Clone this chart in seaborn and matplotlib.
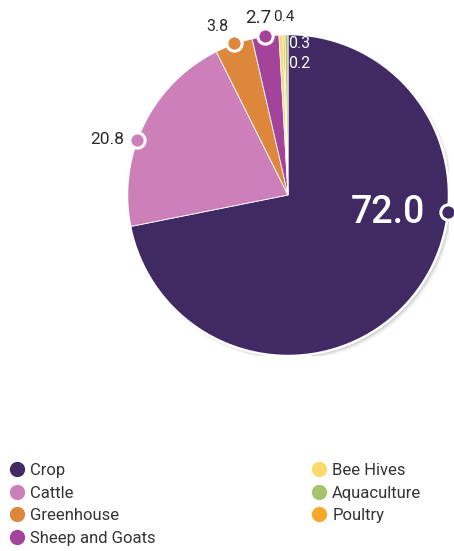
import matplotlib
matplotlib.use("Agg")
import matplotlib.pyplot as plt
import seaborn as sns
import numpy as np
from matplotlib.patches import Circle
from matplotlib.lines import Line2D

sns.set_theme(style="white")
plt.rcParams['font.family'] = ['Roboto', 'DejaVu Sans']

# data (pie order, clockwise from 12 o'clock)
categories = ["Crop", "Cattle", "Greenhouse", "Sheep and Goats", "Bee Hives", "Poultry", "Aquaculture"]
values = [72.0, 20.8, 3.8, 2.7, 0.4, 0.2, 0.3]
labels = ["72.0", "20.8", "3.8", "2.7", "0.4", "0.2", "0.3"]
colors = ["#3F2A63", "#CC7FB8", "#DD873D", "#A3449A", "#FDD86A", "#F5A92A", "#A6C36E"]
legend_order = ["Crop", "Cattle", "Greenhouse", "Sheep and Goats", "Bee Hives", "Aquaculture", "Poultry"]

W, H = 454, 551
fig = plt.figure(figsize=(W / 100, H / 100), dpi=100)
cx, cy, R = 288, 195, 161
ax = fig.add_axes([(cx - R) / W, 1 - (cy + R) / H, 2 * R / W, 2 * R / H])
ax.axis('off')

# soft shadow
for i, a in enumerate([0.10, 0.07, 0.04]):
    ax.add_patch(Circle((0.010 + 0.005 * i, -0.010 - 0.005 * i), 1.0 + 0.004 * i,
                        color="#000000", alpha=a, lw=0, zorder=0))

wedges, _ = ax.pie(values, colors=colors, startangle=90, counterclock=False, radius=1,
                   wedgeprops=dict(edgecolor="white", linewidth=0.6), normalize=True)
for w in wedges:
    w.set_zorder(2)
ax.add_patch(Circle((0, 0), 1.0, fill=False, edgecolor="white", lw=1.8, zorder=3))
ax.set_xlim(-1, 1)
ax.set_ylim(-1, 1)
ax.set_aspect('equal')

total = sum(values)
cum = np.cumsum([0] + values[:-1])
mids = [(c + v / 2) / total * 360 for c, v in zip(cum, values)]
mids[0] = 96   # crop label placed at right edge
mids[1] = 290  # cattle label position


def pos(angle, r=1.0):
    t = np.deg2rad(angle)
    return r * np.sin(t), r * np.cos(t)

dark = "#2b2b2b"
# markers for the larger slices
for i in range(4):
    x, y = pos(mids[i])
    ax.plot([x], [y], marker='o', ms=11, mfc=colors[i], mec="white", mew=2.2,
            clip_on=False, zorder=5)

# labels
x, y = pos(mids[0])
ax.text(x - 0.14, y - 0.005, labels[0], color="white", fontsize=27, fontweight="medium",
        ha="right", va="center", zorder=6)
x, y = pos(mids[1])
ax.text(x - 0.075, y + 0.005, labels[1], color=dark, fontsize=12.5,
        ha="right", va="center", zorder=6)
x, y = pos(mids[2])
ax.text(x - 0.03, y + 0.06, labels[2], color=dark, fontsize=11.5,
        ha="right", va="bottom", zorder=6)
x, y = pos(mids[3])
ax.text(x + 0.04, y + 0.055, labels[3], color=dark, fontsize=13.5,
        ha="right", va="bottom", zorder=6)
x, y = pos(mids[4])
ax.text(x - 0.05, y + 0.06, labels[4], color=dark, fontsize=11,
        ha="left", va="bottom", zorder=6)
x, y = pos(mids[6])
ax.text(x + 0.01, y - 0.01, labels[6], color="white", fontsize=11.5,
        ha="left", va="top", zorder=6)
ax.text(x + 0.01, y - 0.135, labels[5], color="white", fontsize=11.5,
        ha="left", va="top", zorder=6)

# legend
cmap = dict(zip(categories, colors))
handles = [Line2D([], [], marker='o', ls='', ms=11, mfc=cmap[c], mec='none') for c in legend_order]
leg = fig.legend(handles, legend_order, ncol=2, loc="upper left",
                 bbox_to_anchor=(0.0, 1 - 453 / H), frameon=False,
                 fontsize=12, handlelength=0.8, handletextpad=0.4,
                 columnspacing=9.4, labelspacing=0.46, labelcolor="#333333",
                 borderaxespad=0.2)

fig.savefig("out.png", dpi=100)
